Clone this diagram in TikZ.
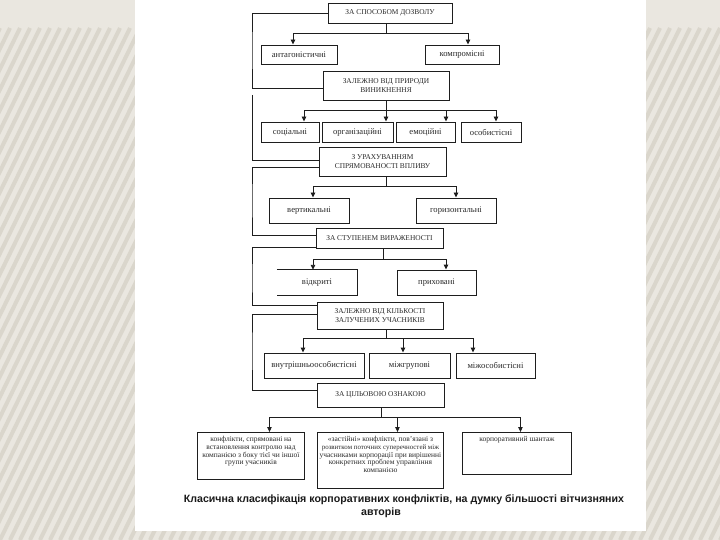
\documentclass[tikz,border=0pt]{standalone}
\usepackage{fontspec}
\setmainfont{Liberation Serif}
\newfontfamily\capfont{Liberation Sans}
\usetikzlibrary{arrows.meta}
\definecolor{bgc}{HTML}{EAE7E0}
\definecolor{stripec}{HTML}{DAD6CC}
\definecolor{linec}{HTML}{1E1E1E}
\definecolor{textc}{HTML}{2A2A2A}
\definecolor{capc}{HTML}{1A1A1A}
\tikzset{
  hbox/.style={draw=linec, line width=0.9pt, fill=white, inner sep=0pt, align=center,
    font=\fontsize{7.4}{9.8}\selectfont, text=textc},
  cbox/.style={hbox, font=\fontsize{8.6}{9}\selectfont},
  ctext/.style={inner sep=0pt, align=center, font=\fontsize{8.6}{9}\selectfont, text=textc},
  fbox/.style={draw=linec, line width=0.9pt, fill=white, inner sep=0pt, anchor=north west,
    font=\fontsize{7.5}{7.6}\selectfont, text=textc},
  conn/.style={draw=linec, line width=0.9pt},
  arr/.style={conn, -{Triangle[length=5pt,width=4.5pt]}},
  stripe/.style={draw=stripec, line width=4pt},
  captext/.style={inner sep=0pt, font=\capfont\bfseries\fontsize{10.6}{12}\selectfont, text=capc}
}
\begin{document}
\begin{tikzpicture}[x=1pt,y=-1pt]
\useasboundingbox (0,0) rectangle (720,540);
% background
\fill[bgc] (0,0) rectangle (720,540);
\begin{scope}
  \clip (0,28) rectangle (720,540);
  \foreach \i in {-30,...,75} { \draw[stripe] (\i*10,540) -- (\i*10+250,28); }
\end{scope}
\fill[white] (135,0) rectangle (646,531);

% level 1
\node[hbox, minimum width=124pt, minimum height=20pt] (h1) at (390,13) {ЗА СПОСОБОМ ДОЗВОЛУ};
\node[cbox, minimum width=76pt, minimum height=19pt] (a1) at (299,54.5) {антагоністичні};
\node[cbox, minimum width=74pt, minimum height=19pt] (a2) at (462,54.5) {компромісні};

% level 2
\node[hbox, minimum width=126pt, minimum height=29pt] (h2) at (386,85.5) {ЗАЛЕЖНО ВІД ПРИРОДИ\\ВИНИКНЕННЯ};
\node[cbox, minimum width=58pt, minimum height=20pt] (b1) at (290,132) {соціальні};
\node[cbox, minimum width=71pt, minimum height=20pt] (b2) at (357.5,132) {організаційні};
\node[cbox, minimum width=59pt, minimum height=20pt] (b3) at (425.5,132) {емоційні};
\node[cbox, minimum width=60pt, minimum height=20pt] (b4) at (491,132) {особистісні};

% level 3
\node[hbox, minimum width=127pt, minimum height=29pt] (h3) at (382.5,161.5) {З УРАХУВАННЯМ\\СПРЯМОВАНОСТІ ВПЛИВУ};
\node[cbox, minimum width=80pt, minimum height=25pt] (c1) at (309,210.5) {вертикальні};
\node[cbox, minimum width=80pt, minimum height=25pt] (c2) at (456,210.5) {горизонтальні};

% level 4
\node[hbox, minimum width=127pt, minimum height=20pt] (h4) at (379.5,238) {ЗА СТУПЕНЕМ ВИРАЖЕНОСТІ};
\node[ctext, minimum width=80pt, minimum height=25pt] (d1) at (317,282.5) {відкриті};
\draw[conn] (d1.north west) -- (d1.north east) -- (d1.south east) -- (d1.south west);
\node[cbox, minimum width=79pt, minimum height=25pt] (d2) at (436.5,282.5) {приховані};

% level 5
\node[hbox, minimum width=126pt, minimum height=27pt] (h5) at (380,315.5) {ЗАЛЕЖНО ВІД КІЛЬКОСТІ\\ЗАЛУЧЕНИХ УЧАСНИКІВ};
\node[cbox, minimum width=100pt, minimum height=25pt] (e1) at (314,365.5) {внутрішньоособистісні};
\node[cbox, minimum width=81pt, minimum height=25pt] (e2) at (409.5,365.5) {міжгрупові};
\node[cbox, minimum width=79pt, minimum height=25pt] (e3) at (495.5,365.5) {міжособистісні};

% level 6
\node[hbox, minimum width=127pt, minimum height=24pt] (h6) at (380.5,395) {ЗА ЦІЛЬОВОЮ ОЗНАКОЮ};
\node[fbox] (f1) at (197,432) {\parbox[c][47pt][t]{107pt}{\centering\rule{0pt}{9.5pt}конфлікти, спрямовані на\\встановлення контролю над\\компанією з боку тієї чи іншої\\групи учасників}};
\node[fbox] (f2) at (317,432) {\parbox[c][56pt][t]{126pt}{\centering\rule{0pt}{9.5pt}«застійні» конфлікти, пов'язані з\\\makebox[\linewidth][c]{\fontsize{6.9}{7.6}\selectfont розвитком поточних суперечностей між}\\учасниками корпорації при вирішенні\\конкретних проблем управління\\компанією}};
\node[fbox] (f3) at (462,432) {\parbox[c][42pt][t]{109pt}{\centering\rule{0pt}{9.5pt}корпоративний шантаж}};

% trees
\coordinate (j1) at (386,33);
\draw[conn] (h1.south -| j1) -- (j1);
\draw[arr] (j1) -| ([xshift=-6pt]a1.north);
\draw[arr] (j1) -| ([xshift=6pt]a2.north);

\coordinate (j2) at (386,110);
\draw[conn] (h2.south -| j2) -- (j2);
\draw[arr] (j2) -| ([xshift=14pt]b1.north);
\draw[arr] (j2) -- (b2.north -| j2);
\draw[arr] (j2) -| ([xshift=20.5pt]b3.north);
\draw[arr] (j2) -| ([xshift=5pt]b4.north);

\coordinate (j3) at (386,186);
\draw[conn] (h3.south -| j3) -- (j3);
\draw[arr] (j3) -| ([xshift=4pt]c1.north);
\draw[arr] (j3) -| (c2.north);

\coordinate (j4) at (383,259);
\draw[conn] (h4.south -| j4) -- (j4);
\draw[arr] (j4) -| ([xshift=-4pt]d1.north);
\draw[arr] (j4) -| ([xshift=9.5pt]d2.north);

\coordinate (j5) at (386,338);
\draw[conn] (h5.south -| j5) -- (j5);
\draw[arr] (j5) -| ([xshift=-11pt]e1.north);
\draw[arr] (j5) -| ([xshift=-6.5pt]e2.north);
\draw[arr] (j5) -| ([xshift=-22.5pt]e3.north);

\coordinate (j6) at (381,417);
\draw[conn] (h6.south -| j6) -- (j6);
\draw[arr] (j6) -| ([xshift=18.5pt]f1.north);
\draw[arr] (j6) -| ([xshift=17pt]f2.north);
\draw[arr] (j6) -| ([xshift=3.5pt]f3.north);

% left links
\draw[conn] (h1.west) -| (252,50) |- (h2.west |- 0,88);
\coordinate (l2) at (252,95);
\draw[conn] (l2) |- (h3.west |- 0,160);
\draw[conn] (h3.west |- 0,167) -| (252,200) |- (h4.west |- 0,235);
\draw[conn] (h4.west |- 0,247) -| (252,280) |- (h5.west |- 0,305);
\draw[conn] (h5.west |- 0,314) -| (252,350) |- (h6.west |- 0,390);

% caption
\node[captext] (cap1) at (404,500) {Класична класифікація корпоративних конфліктів, на думку більшості вітчизняних};
\node[captext] (cap2) at (381,512.5) {авторів};
\end{tikzpicture}
\end{document}
